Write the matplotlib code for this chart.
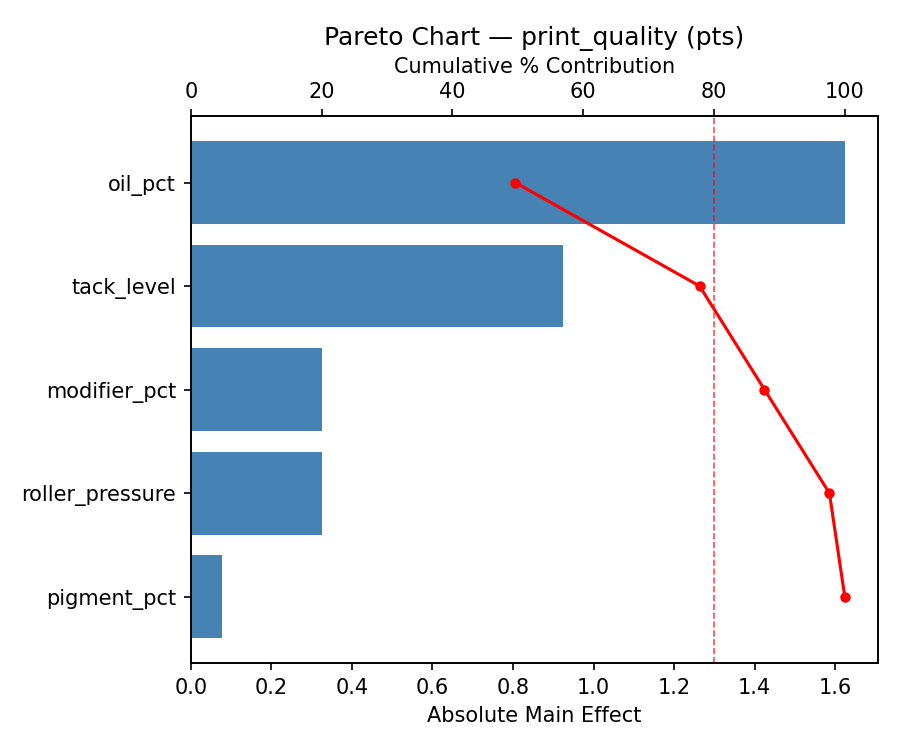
import numpy as np
import matplotlib
matplotlib.use('Agg')
import matplotlib.pyplot as plt

factors = ['oil_pct', 'tack_level', 'modifier_pct', 'roller_pressure', 'pigment_pct']
effects = [1.624, 0.923, 0.325, 0.325, 0.077]

effects_arr = np.array(effects)
cum_pct = np.cumsum(effects_arr) / effects_arr.sum() * 100
y = np.arange(len(factors))

fig, ax = plt.subplots(figsize=(6, 5), dpi=150)
ax.barh(y, effects_arr, color='steelblue')
ax.set_yticks(y)
ax.set_yticklabels(factors)
ax.invert_yaxis()
ax.set_xlim(0, effects_arr.max() * 1.05)
ax.set_xlabel('Absolute Main Effect')

# вторая ось сверху для накопленного процента
ax2 = ax.twiny()
ax2.plot(cum_pct, y, 'o-', color='red', markersize=4)
ax2.axvline(80, color='red', linestyle='--', linewidth=0.8, alpha=0.7)
ax2.set_xlim(0, 105)
ax2.set_xlabel('Cumulative % Contribution')

ax.set_title('Pareto Chart — print_quality (pts)', fontsize=12)
fig.subplots_adjust(left=0.212, right=0.975, top=0.845, bottom=0.116)
plt.savefig('out.png')
